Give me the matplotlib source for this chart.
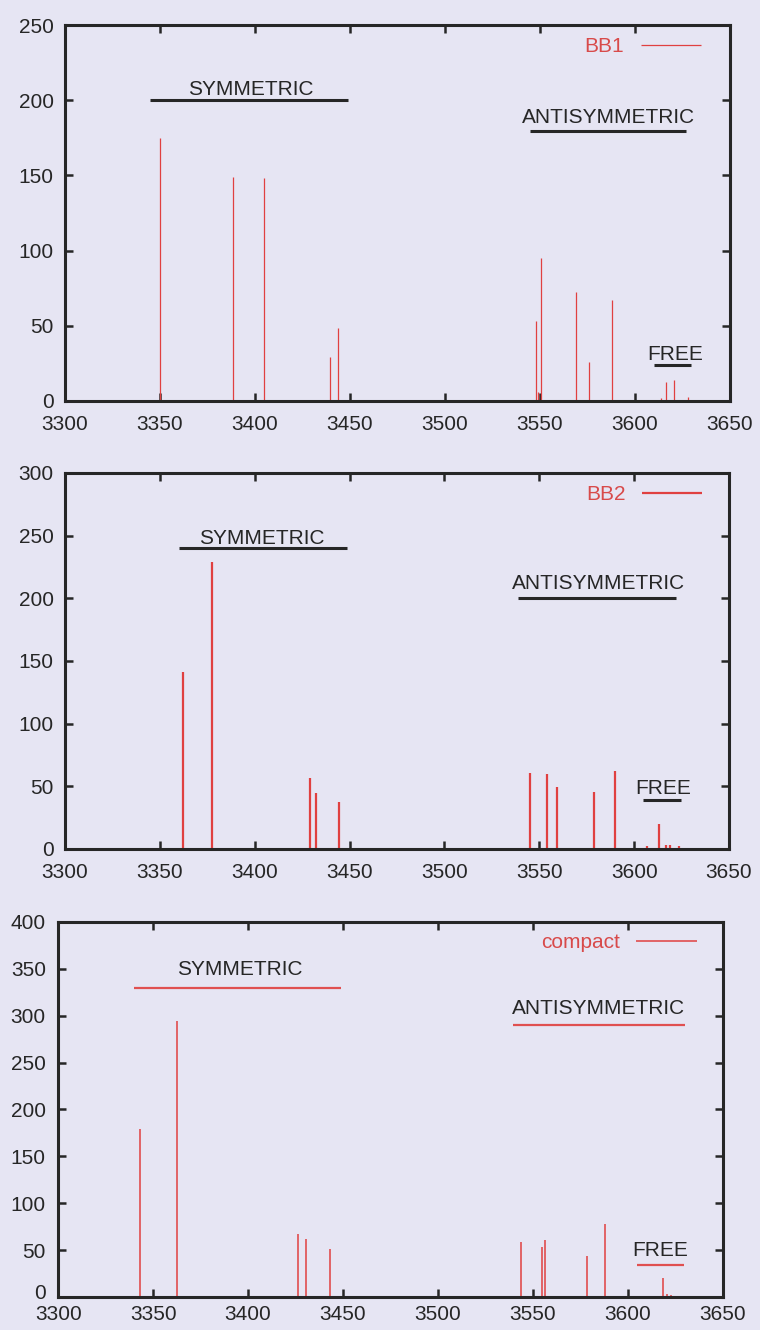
import matplotlib.pyplot as plt
from matplotlib.transforms import ScaledTranslation

plt.rcParams['font.family'] = ['Liberation Sans', 'DejaVu Sans']

# stick spectra: OH stretch frequencies (cm-1) and IR intensities
bb1_freq = [3350.0, 3388.2, 3404.9, 3439.6, 3443.9, 3547.8, 3549.2, 3550.3,
            3568.8, 3576.0, 3588.1, 3613.7, 3616.2, 3620.5, 3628.0]
bb1_int = [175, 149, 148.5, 29.5, 48.7, 53, 6, 95,
           72.7, 26, 67, 2, 12.8, 14, 2.5]

bb2_freq = [3362.2, 3377.5, 3429.2, 3432.1, 3444.6, 3545.1, 3554.3, 3559.5,
            3578.9, 3590.1, 3606.6, 3613.1, 3616.8, 3618.8, 3623.6]
bb2_int = [141.5, 229.2, 56.4, 44.4, 37.7, 60.4, 59.6, 49.6,
           45.7, 62.2, 2.7, 19.8, 3, 3.5, 2.5]

compact_freq = [3343.0, 3362.4, 3426.1, 3430.5, 3443.1, 3543.6, 3554.7,
                3556.2, 3578.7, 3588.0, 3608.6, 3618.6, 3620.6, 3623.0]
compact_int = [179.6, 294, 67.6, 62.3, 51.6, 58.5, 53.2,
               61, 43.7, 78.2, 1.5, 20.5, 3, 2]

names = ['BB1', 'BB2', 'compact']
ymax = [250, 300, 400]

# band labels: (text, x, y) and the bar underneath (y, x0, x1)
band_text = [
    [('SYMMETRIC', 3398, 207), ('ANTISYMMETRIC', 3586, 188.5), ('FREE', 3621, 31)],
    [('SYMMETRIC', 3403.6, 248), ('ANTISYMMETRIC', 3581.4, 211.6), ('FREE', 3615.4, 48.4)],
    [('SYMMETRIC', 3395.7, 349), ('ANTISYMMETRIC', 3584.5, 308.2), ('FREE', 3617, 49.6)],
]
band_bars = [
    [(200, 3345, 3449), (179.5, 3545, 3627), (24, 3610, 3629.5)],
    [(240, 3360, 3448.5), (200, 3539, 3622), (39, 3604.5, 3624.7)],
    [(330, 3340, 3449), (290, 3539.4, 3630), (34, 3604.7, 3629.8)],
]

bg = '#e6e5f3'
ink = '#262626'
red = '#e04040'

fig = plt.figure(figsize=(7.6, 13.3), dpi=100, facecolor=bg)
boxes = [[0.0855, 0.6985, 0.875, 0.2827],
         [0.0855, 0.3617, 0.8737, 0.2827],
         [0.0767, 0.0248, 0.8742, 0.2820]]
legend_at = [(0.957, 0.942), (0.960, 0.943), (0.961, 0.945)]
stem_lw = [0.9, 1.6, 1.1]
bar_col = [ink, ink, '#e05050']
bar_lw = [2.2, 2.2, 1.6]
xpad = [10, 10, 6]
ypad = [8, 8, 9]

freqs = [bb1_freq, bb2_freq, compact_freq]
ints = [bb1_int, bb2_int, compact_int]

for i in range(3):
    ax = fig.add_axes(boxes[i])
    ax.set_facecolor(bg)
    ax.vlines(freqs[i], 0, ints[i], color=red, lw=stem_lw[i], label=names[i])

    for txt, x, y in band_text[i]:
        ax.text(x, y, txt, ha='center', va='center', fontsize=15, color=ink)
    for y, x0, x1 in band_bars[i]:
        ax.hlines(y, x0, x1, color=bar_col[i], lw=bar_lw[i])

    ax.set_xlim(3300, 3650)
    ax.set_ylim(0, ymax[i])
    ax.set_xticks(range(3300, 3651, 50))
    ax.set_yticks(range(0, ymax[i] + 1, 50))
    ax.tick_params(direction='in', length=6, width=1.8, color=ink,
                   labelsize=15, labelcolor=ink, top=True, right=True)
    ax.tick_params(axis='x', pad=xpad[i])
    ax.tick_params(axis='y', pad=ypad[i])
    for s in ax.spines.values():
        s.set_linewidth(2.2)
        s.set_color(ink)

    leg = ax.legend(loc='center right', bbox_to_anchor=legend_at[i],
                    frameon=False, markerfirst=False, fontsize=15,
                    handlelength=2.9, handletextpad=0.8,
                    borderpad=0, borderaxespad=0)
    for t in leg.get_texts():
        t.set_color('#d84a4a')

    # bottom panel sits low: lift its "0" a little off the x labels
    if i == 2:
        zero = ax.get_yticklabels()[0]
        zero.set_transform(zero.get_transform() +
                           ScaledTranslation(0, 4 / 72, fig.dpi_scale_trans))

fig.savefig('out.png', dpi=100, facecolor=bg)
